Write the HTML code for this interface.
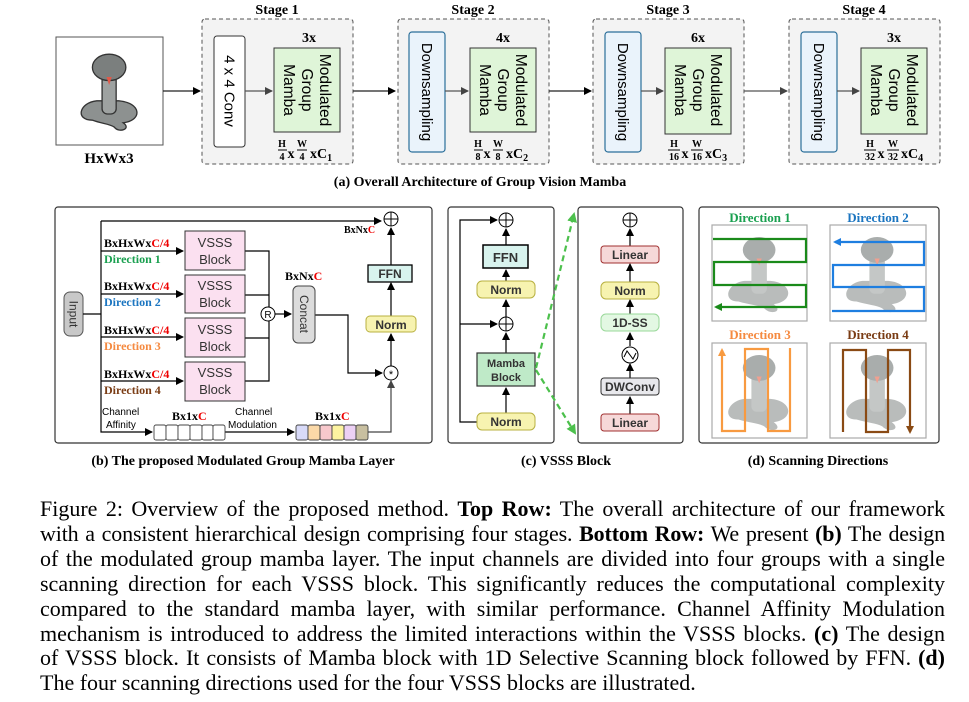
<!DOCTYPE html>
<html><head><meta charset="utf-8"><style>
body{margin:0;width:969px;height:702px;background:#fff;overflow:hidden;position:relative}
svg{position:absolute;left:0;top:0}
.s{font-family:"Liberation Serif",serif;font-weight:bold}
.a{font-family:"Liberation Sans",sans-serif;font-weight:bold}
#cap{position:absolute;left:40px;top:497px;width:905px;font-family:"Liberation Serif",serif;font-size:22px;line-height:24.9px;color:#000}
#cap div{text-align:justify;text-align-last:justify;white-space:nowrap}
#cap div.l{text-align-last:left}
#cap div.t{letter-spacing:-0.15px}
</style></head><body>
<svg width="969" height="702" viewBox="0 0 969 702">
<defs>
<marker id="ar" markerWidth="8" markerHeight="8" refX="7" refY="4" orient="auto" markerUnits="userSpaceOnUse"><path d="M0,0 L8,4 L0,8z" fill="#000"/></marker>
<marker id="ag" markerWidth="8" markerHeight="8" refX="7" refY="4" orient="auto" markerUnits="userSpaceOnUse"><path d="M0,0 L8,4 L0,8z" fill="#444"/></marker>
<marker id="agr" markerWidth="10" markerHeight="10" refX="8" refY="5" orient="auto" markerUnits="userSpaceOnUse"><path d="M0,0 L10,5 L0,10z" fill="#4cc04c"/></marker>
<symbol id="snake" viewBox="0 0 100 100">
<path d="M30,82 C10,82 15,62 35,60 L60,60 C85,62 88,82 65,85 C75,92 60,97 55,90 C50,86 40,86 30,82z" fill="#8d9190" stroke="#333" stroke-width="1.5"/>
<rect x="41" y="30" width="16" height="45" rx="6" fill="#9ea2a1" stroke="#333" stroke-width="1.5"/>
<ellipse cx="49" cy="22" rx="19" ry="15" fill="#7b7f7e" stroke="#333" stroke-width="1.5"/>
<path d="M46,33 L49,42 L52,33z" fill="#e05a4a"/>
</symbol>
<symbol id="snk2" viewBox="0 0 100 100">
<path d="M25,82 C5,82 12,60 32,58 L62,58 C88,60 90,82 66,85 C78,94 62,98 55,90 C48,86 38,86 25,82z" fill="#b9bcbb"/>
<rect x="40" y="28" width="18" height="45" rx="6" fill="#c4c7c6"/>
<ellipse cx="49" cy="22" rx="19" ry="15" fill="#a9adac"/>
<path d="M46,32 L49,40 L52,32z" fill="#f0a090"/>
</symbol>
</defs>

<!-- TOP ROW -->
<rect x="56" y="37" width="107" height="108" fill="#fff" stroke="#555" stroke-width="1"/>
<use href="#snake" x="66" y="42" width="88" height="100"/>
<text x="109" y="163" class="s" font-size="15" text-anchor="middle">HxWx3</text>
<line x1="163" y1="91" x2="200" y2="91" stroke="#222" stroke-width="1.3" marker-end="url(#ar)"/>

<!-- stage 1 -->
<text x="277" y="14" class="s" font-size="14" text-anchor="middle">Stage 1</text>
<rect x="202" y="19" width="151" height="145" rx="3" fill="#f3f3f3" stroke="#555" stroke-dasharray="4,3"/>
<rect x="214" y="36" width="31" height="111" rx="3" fill="#fff" stroke="#333"/>
<text transform="translate(229.5,91) rotate(90)" class="a" font-size="15" text-anchor="middle" dy="5" style="font-weight:normal">4 x 4 Conv</text>
<line x1="245" y1="91" x2="272" y2="91" stroke="#555" stroke-width="1.2" marker-end="url(#ag)"/>
<text x="309" y="42" class="s" font-size="14" text-anchor="middle">3x</text>
<rect x="274" y="48" width="66" height="84" fill="#dff5d8" stroke="#333"/>
<g transform="translate(307,90) rotate(90)" class="a" font-size="15.5" text-anchor="middle" style="font-weight:normal"><text y="-18" dy="5">Modulated</text><text y="0" dy="5">Group</text><text y="18" dy="5">Mamba</text></g>
<g class="s"><text x="291" y="158" font-size="14" text-anchor="middle">x</text><text x="310" y="158" font-size="14">xC<tspan font-size="10" dy="3">1</tspan></text></g>
<g class="s" font-size="10" text-anchor="middle"><text x="282" y="147">H</text><line x1="278" y1="150" x2="287" y2="150" stroke="#000"/><text x="282" y="160">4</text><text x="302" y="147">W</text><line x1="297" y1="150" x2="307" y2="150" stroke="#000"/><text x="302" y="160">4</text></g>

<line x1="353" y1="91" x2="395" y2="91" stroke="#222" stroke-width="1.3" marker-end="url(#ar)"/>

<!-- stage 2 -->
<g transform="translate(196,0)">
<text x="277" y="14" class="s" font-size="14" text-anchor="middle">Stage 2</text>
<rect x="202" y="19" width="151" height="145" rx="3" fill="#f3f3f3" stroke="#555" stroke-dasharray="4,3"/>
<rect x="213" y="32" width="36" height="120" rx="3" fill="#eaf3fb" stroke="#2b6f9a" stroke-width="1.2"/>
<text transform="translate(231,92) rotate(90)" class="a" font-size="15" text-anchor="middle" dy="5" style="font-weight:normal">Downsampling</text>
<line x1="249" y1="91" x2="272" y2="91" stroke="#555" stroke-width="1.2" marker-end="url(#ag)"/>
<text x="307" y="42" class="s" font-size="14" text-anchor="middle">4x</text>
<rect x="274" y="48" width="66" height="84" fill="#dff5d8" stroke="#333"/>
<g transform="translate(307,90) rotate(90)" class="a" font-size="15.5" text-anchor="middle" style="font-weight:normal"><text y="-18" dy="5">Modulated</text><text y="0" dy="5">Group</text><text y="18" dy="5">Mamba</text></g>
<g class="s"><text x="291" y="158" font-size="14" text-anchor="middle">x</text><text x="310" y="158" font-size="14">xC<tspan font-size="10" dy="3">2</tspan></text></g>
<g class="s" font-size="10" text-anchor="middle"><text x="282" y="147">H</text><line x1="278" y1="150" x2="287" y2="150" stroke="#000"/><text x="282" y="160">8</text><text x="302" y="147">W</text><line x1="297" y1="150" x2="307" y2="150" stroke="#000"/><text x="302" y="160">8</text></g>
<line x1="353" y1="91" x2="395" y2="91" stroke="#222" stroke-width="1.3" marker-end="url(#ar)"/>
</g>

<!-- stage 3 -->
<g transform="translate(391,0)">
<text x="277" y="14" class="s" font-size="14" text-anchor="middle">Stage 3</text>
<rect x="202" y="19" width="151" height="145" rx="3" fill="#f3f3f3" stroke="#555" stroke-dasharray="4,3"/>
<rect x="214" y="32" width="36" height="120" rx="3" fill="#eaf3fb" stroke="#2b6f9a" stroke-width="1.2"/>
<text transform="translate(232,92) rotate(90)" class="a" font-size="15" text-anchor="middle" dy="5" style="font-weight:normal">Downsampling</text>
<line x1="250" y1="91" x2="272" y2="91" stroke="#555" stroke-width="1.2" marker-end="url(#ag)"/>
<text x="307" y="42" class="s" font-size="14" text-anchor="middle">6x</text>
<rect x="274" y="48" width="66" height="86" fill="#dff5d8" stroke="#333"/>
<g transform="translate(307,90) rotate(90)" class="a" font-size="15.5" text-anchor="middle" style="font-weight:normal"><text y="-18" dy="5">Modulated</text><text y="0" dy="5">Group</text><text y="18" dy="5">Mamba</text></g>
<g class="s"><text x="294" y="158" font-size="14" text-anchor="middle">x</text><text x="314" y="158" font-size="14">xC<tspan font-size="10" dy="3">3</tspan></text></g>
<g class="s" font-size="10" text-anchor="middle"><text x="283" y="147">H</text><line x1="277" y1="150" x2="289" y2="150" stroke="#000"/><text x="283" y="160">16</text><text x="306" y="147">W</text><line x1="300" y1="150" x2="312" y2="150" stroke="#000"/><text x="306" y="160">16</text></g>
<line x1="353" y1="91" x2="396" y2="91" stroke="#555" stroke-width="1.2" marker-end="url(#ag)"/>
</g>

<!-- stage 4 -->
<g transform="translate(587,0)">
<text x="277" y="14" class="s" font-size="14" text-anchor="middle">Stage 4</text>
<rect x="202" y="19" width="151" height="145" rx="3" fill="#f3f3f3" stroke="#555" stroke-dasharray="4,3"/>
<rect x="214" y="32" width="36" height="120" rx="3" fill="#eaf3fb" stroke="#2b6f9a" stroke-width="1.2"/>
<text transform="translate(232,92) rotate(90)" class="a" font-size="15" text-anchor="middle" dy="5" style="font-weight:normal">Downsampling</text>
<line x1="250" y1="91" x2="272" y2="91" stroke="#555" stroke-width="1.2" marker-end="url(#ag)"/>
<text x="307" y="42" class="s" font-size="14" text-anchor="middle">3x</text>
<rect x="274" y="48" width="66" height="86" fill="#dff5d8" stroke="#333"/>
<g transform="translate(307,90) rotate(90)" class="a" font-size="15.5" text-anchor="middle" style="font-weight:normal"><text y="-18" dy="5">Modulated</text><text y="0" dy="5">Group</text><text y="18" dy="5">Mamba</text></g>
<g class="s"><text x="294" y="158" font-size="14" text-anchor="middle">x</text><text x="314" y="158" font-size="14">xC<tspan font-size="10" dy="3">4</tspan></text></g>
<g class="s" font-size="10" text-anchor="middle"><text x="283" y="147">H</text><line x1="277" y1="150" x2="289" y2="150" stroke="#000"/><text x="283" y="160">32</text><text x="306" y="147">W</text><line x1="300" y1="150" x2="312" y2="150" stroke="#000"/><text x="306" y="160">32</text></g>
</g>
<text x="480" y="186" class="s" font-size="14" text-anchor="middle">(a) Overall Architecture of Group Vision Mamba</text>

<!-- PANEL B -->
<rect x="55" y="207" width="377" height="236" rx="3" fill="#fff" stroke="#333" stroke-width="1.2"/>
<rect x="64" y="292" width="19" height="44" rx="6" fill="#c8c8c8" stroke="#555"/>
<text transform="translate(73.5,314) rotate(90)" class="a" font-size="12" text-anchor="middle" dy="4" fill="#333" style="font-weight:normal">Input</text>
<g stroke="#000" stroke-width="1.2" fill="none">
<line x1="83" y1="314" x2="101" y2="314"/>
<line x1="101" y1="221" x2="101" y2="430"/>
<line x1="101" y1="221" x2="381" y2="221" marker-end="url(#ar)"/>
<line x1="101" y1="251" x2="183" y2="251" marker-end="url(#ar)"/>
<line x1="101" y1="294" x2="183" y2="294" marker-end="url(#ar)"/>
<line x1="101" y1="337" x2="183" y2="337" marker-end="url(#ar)"/>
<line x1="101" y1="381" x2="183" y2="381" marker-end="url(#ar)"/>
<path d="M101,430 L101,432 L152,432" marker-end="url(#ar)"/>
<path d="M245,251 L269,251 L269,381 L245,381"/>
<line x1="245" y1="295" x2="269" y2="295"/>
<line x1="245" y1="338" x2="269" y2="338"/>
<line x1="275" y1="314" x2="291" y2="314" marker-end="url(#ar)"/>
<path d="M315,315 L348,315 L348,373 L382,373" marker-end="url(#ar)"/>
<line x1="391" y1="366" x2="391" y2="334" marker-end="url(#ar)"/>
<line x1="391" y1="316" x2="391" y2="283" marker-end="url(#ar)"/>
<line x1="391" y1="265" x2="391" y2="228" marker-end="url(#ar)"/>
<line x1="225" y1="432" x2="294" y2="432" marker-end="url(#ar)"/>
<path d="M368,432 L391,432 L391,381" stroke="#444" marker-end="url(#ag)"/>
</g>
<g fill="#fbe0f0" stroke="#333">
<rect x="185" y="231" width="60" height="39"/><rect x="185" y="275" width="60" height="38"/><rect x="185" y="318" width="60" height="39"/><rect x="185" y="362" width="60" height="39"/>
</g>
<g class="a" font-size="13" fill="#333" text-anchor="middle" style="font-weight:normal">
<text x="215" y="247">VSSS</text><text x="215" y="264">Block</text>
<text x="215" y="290">VSSS</text><text x="215" y="307">Block</text>
<text x="215" y="334">VSSS</text><text x="215" y="351">Block</text>
<text x="215" y="377">VSSS</text><text x="215" y="394">Block</text>
</g>
<g class="s" font-size="12">
<text x="104" y="247">BxHxWx<tspan fill="#e00">C/4</tspan></text>
<text x="104" y="263" fill="#1aa050">Direction 1</text>
<text x="104" y="290">BxHxWx<tspan fill="#e00">C/4</tspan></text>
<text x="104" y="306" fill="#1b75c0">Direction 2</text>
<text x="104" y="334">BxHxWx<tspan fill="#e00">C/4</tspan></text>
<text x="104" y="350" fill="#f58a40">Direction 3</text>
<text x="104" y="378">BxHxWx<tspan fill="#e00">C/4</tspan></text>
<text x="104" y="394" fill="#7a3c14">Direction 4</text>
<text x="285" y="280">BxNx<tspan fill="#e00">C</tspan></text>
<text x="344" y="233" font-size="10">BxNx<tspan fill="#e00">C</tspan></text>
<text x="172" y="420">Bx1x<tspan fill="#e00">C</tspan></text>
<text x="315" y="420">Bx1x<tspan fill="#e00">C</tspan></text>
</g>
<circle cx="268" cy="314" r="7" fill="#fff" stroke="#000"/><text x="268" y="318" class="a" font-size="10" text-anchor="middle" style="font-weight:normal">R</text>
<rect x="293" y="286" width="22" height="57" rx="5" fill="#dcdcdc" stroke="#444"/>
<text transform="translate(304,314) rotate(90)" class="a" font-size="12" text-anchor="middle" dy="4" fill="#333" style="font-weight:normal">Concat</text>
<circle cx="391" cy="373" r="7" fill="#fff" stroke="#000"/><text x="391" y="378" class="a" font-size="11" text-anchor="middle" style="font-weight:normal">*</text>
<rect x="366" y="316" width="50" height="16" rx="4" fill="#f7f3b0" stroke="#b8b040"/><text x="391" y="329" class="a" font-size="12" text-anchor="middle" fill="#333">Norm</text>
<rect x="368" y="265" width="44" height="17" fill="#d8f3ee" stroke="#000" stroke-width="1.3"/><text x="390" y="278" class="a" font-size="12" text-anchor="middle" fill="#333">FFN</text>
<circle cx="391" cy="219" r="7" fill="#fff" stroke="#000"/><path d="M384,219 H398 M391,212 V226" stroke="#000"/>
<g class="a" font-size="10" fill="#000" style="font-weight:normal"><text x="102" y="415">Channel</text><text x="106" y="428">Affinity</text><text x="235" y="415">Channel</text><text x="228" y="428">Modulation</text></g>
<g stroke="#444" stroke-width="0.9">
<rect x="154" y="425" width="12" height="15" rx="2" fill="#fff"/><rect x="166" y="425" width="12" height="15" rx="2" fill="#fff"/><rect x="178" y="425" width="12" height="15" rx="2" fill="#fff"/><rect x="190" y="425" width="12" height="15" rx="2" fill="#fff"/><rect x="202" y="425" width="11" height="15" rx="2" fill="#fff"/><rect x="213" y="425" width="12" height="15" rx="2" fill="#fff"/>
<rect x="296" y="425" width="12" height="15" rx="2" fill="#d8daf8"/><rect x="308" y="425" width="12" height="15" rx="2" fill="#fbd9a8"/><rect x="320" y="425" width="12" height="15" rx="2" fill="#f8c8cc"/><rect x="332" y="425" width="12" height="15" rx="2" fill="#fdf3a0"/><rect x="344" y="425" width="12" height="15" rx="2" fill="#ecd0f4"/><rect x="356" y="425" width="12" height="15" rx="2" fill="#c8bfa0"/>
</g>
<text x="243" y="465" class="s" font-size="14" text-anchor="middle">(b) The proposed Modulated Group Mamba Layer</text>

<!-- PANEL C -->
<rect x="448" y="207" width="106" height="236" rx="3" fill="#fff" stroke="#333" stroke-width="1.2"/>
<g stroke="#000" stroke-width="1.2" fill="none">
<path d="M477,422 L460,422 L460,220 L497,220" marker-end="url(#ar)"/>
<path d="M460,324 L497,324" marker-end="url(#ar)"/>
<line x1="506" y1="413" x2="506" y2="388" marker-end="url(#ar)"/>
<line x1="506" y1="353" x2="506" y2="333" marker-end="url(#ar)"/>
<line x1="506" y1="317" x2="506" y2="300" marker-end="url(#ar)"/>
<line x1="506" y1="281" x2="506" y2="270" marker-end="url(#ar)"/>
<line x1="506" y1="245" x2="506" y2="229" marker-end="url(#ar)"/>
</g>
<circle cx="506" cy="220" r="7" fill="#fff" stroke="#000"/><path d="M499,220 H513 M506,213 V227" stroke="#000"/>
<circle cx="506" cy="324" r="7" fill="#fff" stroke="#000"/><path d="M499,324 H513 M506,317 V331" stroke="#000"/>
<rect x="483" y="245" width="45" height="23" fill="#d8f3ee" stroke="#000" stroke-width="1.5"/><text x="505.5" y="262" class="a" font-size="13" text-anchor="middle" fill="#333">FFN</text>
<rect x="477" y="281" width="58" height="17" rx="5" fill="#f7f3b0" stroke="#b8b040"/><text x="506" y="294" class="a" font-size="12" text-anchor="middle" fill="#333">Norm</text>
<rect x="477" y="353" width="58" height="33" fill="#bfeac8" stroke="#333" stroke-width="1.2"/><text x="506" y="367" class="a" font-size="11" text-anchor="middle" fill="#333">Mamba</text><text x="506" y="381" class="a" font-size="11" text-anchor="middle" fill="#333">Block</text>
<rect x="477" y="413" width="58" height="17" rx="5" fill="#f7f3b0" stroke="#b8b040"/><text x="506" y="426" class="a" font-size="12" text-anchor="middle" fill="#333">Norm</text>
<g stroke="#4cc04c" stroke-width="2.2" stroke-dasharray="6,4" fill="none">
<line x1="536" y1="368" x2="574" y2="214" marker-end="url(#agr)"/>
<line x1="536" y1="370" x2="575" y2="433" marker-end="url(#agr)"/>
</g>
<rect x="578" y="207" width="105" height="236" rx="3" fill="#fff" stroke="#333" stroke-width="1.2"/>
<g stroke="#000" stroke-width="1.2">
<line x1="630" y1="414" x2="630" y2="397" marker-end="url(#ar)"/>
<line x1="630" y1="378" x2="630" y2="364" marker-end="url(#ar)"/>
<line x1="630" y1="346" x2="630" y2="333" marker-end="url(#ar)"/>
<line x1="630" y1="314" x2="630" y2="300" marker-end="url(#ar)"/>
<line x1="630" y1="282" x2="630" y2="264" marker-end="url(#ar)"/>
<line x1="630" y1="246" x2="630" y2="229" marker-end="url(#ar)"/>
</g>
<circle cx="630" cy="220" r="7" fill="#fff" stroke="#000"/><path d="M623,220 H637 M630,213 V227" stroke="#000"/>
<rect x="601" y="246" width="58" height="17" rx="3" fill="#f6d8d8" stroke="#a03030"/><text x="630" y="259" class="a" font-size="12" text-anchor="middle" fill="#333">Linear</text>
<rect x="601" y="282" width="58" height="17" rx="5" fill="#f7f3b0" stroke="#b8b040"/><text x="630" y="295" class="a" font-size="12" text-anchor="middle" fill="#333">Norm</text>
<rect x="601" y="314" width="58" height="17" rx="5" fill="#e3f8e3" stroke="#9ad89a"/><text x="630" y="327" class="a" font-size="12" text-anchor="middle" fill="#333">1D-SS</text>
<circle cx="630" cy="355" r="8" fill="#fff" stroke="#000"/><path d="M624,357 L627,351 L633,359 L636,353" stroke="#000" fill="none"/>
<rect x="601" y="378" width="58" height="17" rx="3" fill="#e8e8ec" stroke="#333"/><text x="630" y="391" class="a" font-size="12" text-anchor="middle" fill="#333">DWConv</text>
<rect x="601" y="414" width="58" height="17" rx="3" fill="#f6d8d8" stroke="#a03030"/><text x="630" y="427" class="a" font-size="12" text-anchor="middle" fill="#333">Linear</text>
<text x="566" y="465" class="s" font-size="14" text-anchor="middle">(c) VSSS Block</text>

<!-- PANEL D -->
<rect x="699" y="207" width="240" height="236" rx="3" fill="#fff" stroke="#333" stroke-width="1.2"/>
<g class="s" font-size="13" text-anchor="middle">
<text x="760" y="222" fill="#1aa050">Direction 1</text>
<text x="878" y="222" fill="#1b75c0">Direction 2</text>
<text x="760" y="339" fill="#f58a40">Direction 3</text>
<text x="878" y="339" fill="#7a3c14">Direction 4</text>
</g>
<g fill="#fff" stroke="#aaa" stroke-width="1.2">
<rect x="712" y="225" width="95" height="96"/><rect x="830" y="225" width="96" height="96"/>
<rect x="712" y="343" width="95" height="95"/><rect x="830" y="343" width="96" height="95"/>
</g>
<use href="#snk2" x="717" y="228" width="86" height="92"/>
<use href="#snk2" x="835" y="228" width="86" height="92"/>
<use href="#snk2" x="717" y="346" width="86" height="92"/>
<use href="#snk2" x="835" y="346" width="86" height="92"/>
<marker id="mg" markerWidth="8" markerHeight="8" refX="6" refY="4" orient="auto" markerUnits="userSpaceOnUse"><path d="M0,0 L8,4 L0,8z" fill="#1a8a1a"/></marker>
<marker id="mb" markerWidth="8" markerHeight="8" refX="6" refY="4" orient="auto" markerUnits="userSpaceOnUse"><path d="M0,0 L8,4 L0,8z" fill="#1e7ee0"/></marker>
<marker id="mo" markerWidth="8" markerHeight="8" refX="6" refY="4" orient="auto" markerUnits="userSpaceOnUse"><path d="M0,0 L8,4 L0,8z" fill="#f89a40"/></marker>
<marker id="mr" markerWidth="8" markerHeight="8" refX="6" refY="4" orient="auto" markerUnits="userSpaceOnUse"><path d="M0,0 L8,4 L0,8z" fill="#8a4a14"/></marker>
<path d="M713,239 H806 V262 H714 V285 H806 V307 H716" fill="none" stroke="#1a8a1a" stroke-width="2.2" marker-end="url(#mg)"/>
<path d="M832,311 H924 V287 H833 V265 H924 V242 H835" fill="none" stroke="#1e7ee0" stroke-width="2.2" marker-end="url(#mb)"/>
<path d="M790,348 V431 H768 V349 H745 V431 H722 V350" fill="none" stroke="#f89a40" stroke-width="2.2" marker-end="url(#mo)"/>
<path d="M843,432 V350 H866 V432 H888 V350 H910 V432" fill="none" stroke="#8a4a14" stroke-width="2.2" marker-end="url(#mr)"/>
<text x="818" y="465" class="s" font-size="14" text-anchor="middle">(d) Scanning Directions</text>
</svg>
<div id="cap">
<div>Figure 2: Overview of the proposed method. <b>Top Row:</b> The overall architecture of our framework</div>
<div class="t">with a consistent hierarchical design comprising four stages. <b>Bottom Row:</b> We present <b>(b)</b> The design</div>
<div>of the modulated group mamba layer. The input channels are divided into four groups with a single</div>
<div>scanning direction for each VSSS block. This significantly reduces the computational complexity</div>
<div>compared to the standard mamba layer, with similar performance. Channel Affinity Modulation</div>
<div>mechanism is introduced to address the limited interactions within the VSSS blocks. <b>(c)</b> The design</div>
<div>of VSSS block. It consists of Mamba block with 1D Selective Scanning block followed by FFN. <b>(d)</b></div>
<div class="l">The four scanning directions used for the four VSSS blocks are illustrated.</div>
</div>
</body></html>
